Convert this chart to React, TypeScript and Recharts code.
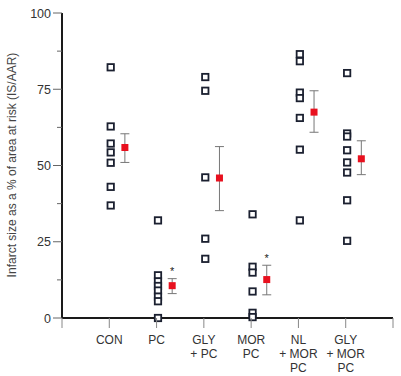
import { ErrorBar, Scatter, ScatterChart, XAxis, YAxis } from "recharts";

// group labels, one row per line
const categories = [
  ["CON"],
  ["PC"],
  ["GLY", "+ PC"],
  ["MOR", "PC"],
  ["NL", "+ MOR", "PC"],
  ["GLY", "+ MOR", "PC"],
];

// individual animals
const conValues = [82.2, 62.8, 57.2, 54.3, 50.9, 43.0, 36.9];
const pcValues = [32.0, 14.0, 12.0, 10.5, 9.0, 7.0, 5.5, 0];
const glyPcValues = [79.0, 74.5, 46.1, 26.0, 19.4];
const morPcValues = [34.0, 16.8, 14.9, 8.7, 1.7, 0.3];
const nlMorPcValues = [86.5, 84.2, 73.9, 72.1, 65.6, 55.2, 32.0];
const glyMorPcValues = [80.3, 60.5, 59.5, 55.0, 51.0, 47.7, 38.6, 25.3];

const groupValues = [conValues, pcValues, glyPcValues, morPcValues, nlMorPcValues, glyMorPcValues];

// group means with error bar ends
const meanValues = [55.9, 10.6, 45.9, 12.6, 67.5, 52.2];
const errUpper = [60.4, 12.9, 56.2, 17.3, 74.5, 58.1];
const errLower = [51.0, 8.0, 35.2, 7.6, 60.9, 47.0];
const significant = [false, true, false, true, false, false];

const yTicks = [0, 12.5, 25, 37.5, 50, 62.5, 75, 87.5, 100];
const xTicks = [0, 1, 2, 3, 4, 5, 6, 7];

const MEAN_OFFSET = 0.33;

const pointData = groupValues.flatMap((vals, i) =>
  vals.map((v) => ({ x: i + 1.03, y: v }))
);

const meanData = meanValues.map((m, i) => ({
  x: i + 1 + MEAN_OFFSET,
  y: m,
  err: [m - errLower[i], errUpper[i] - m],
}));

const starData = meanValues
  .map((_, i) => ({ x: i + 1 + MEAN_OFFSET, y: errUpper[i] + 2.7, sig: significant[i] }))
  .filter((d) => d.sig);

const font = "Liberation Sans, Arial, sans-serif";

const HollowSquare = (props: any) => {
  const { cx, cy } = props;
  return (
    <rect x={cx - 3.2} y={cy - 3.2} width={6.4} height={6.4} fill="#fff" stroke="#1b2030" strokeWidth={1.8} />
  );
};

const RedSquare = (props: any) => {
  const { cx, cy } = props;
  return <rect x={cx - 3.5} y={cy - 3.5} width={7} height={7} fill="#e8101e" />;
};

const Star = (props: any) => {
  const { cx, cy } = props;
  return (
    <text x={cx} y={cy + 5} textAnchor="middle" fontSize={11} fontFamily={font} fill="#222">
      *
    </text>
  );
};

const YTick = (props: any) => {
  const { x, y, payload } = props;
  const major = payload.value % 25 === 0;
  return (
    <g>
      <line x1={x - (major ? 9 : 5)} x2={x} y1={y} y2={y} stroke="#666" strokeWidth={1} />
      {major && (
        <text x={x - 11} y={y} dy={4.5} textAnchor="end" fontSize={12.5} fontFamily={font} fill="#333">
          {payload.value}
        </text>
      )}
    </g>
  );
};

const XTick = (props: any) => {
  const { x, y, payload } = props;
  const lines = categories[payload.value - 1] ?? [];
  return (
    <g>
      <line x1={x} x2={x} y1={y} y2={y + 10} stroke="#888" strokeWidth={1} />
      {lines.map((t, k) => (
        <text key={k} x={x} y={y + 26 + k * 14} textAnchor="middle" fontSize={12} fontFamily={font} fill="#333">
          {t}
        </text>
      ))}
    </g>
  );
};

const YLabel = () => (
  <text
    x={16}
    y={165}
    transform="rotate(-90 16 165)"
    textAnchor="middle"
    fontSize={12}
    fontFamily={font}
    fill="#444"
  >
    Infarct size as a % of area at risk (IS/AAR)
  </text>
);

export default function App() {
  return (
    <div style={{ position: "absolute", left: 0, top: 0, background: "#fff" }}>
      <ScatterChart width={401} height={376} margin={{ top: 13, right: 8, bottom: 0, left: 0 }}>
        <XAxis
          type="number"
          dataKey="x"
          domain={[0, 7]}
          ticks={xTicks}
          interval={0}
          height={58}
          tickSize={0}
          tickMargin={0}
          tickLine={false}
          tick={XTick}
          axisLine={{ stroke: "#1a1a1a", strokeWidth: 2 }}
        />
        <YAxis
          type="number"
          dataKey="y"
          domain={[0, 100]}
          ticks={yTicks}
          interval={0}
          width={62}
          tickSize={0}
          tickMargin={0}
          tickLine={false}
          tick={YTick}
          axisLine={{ stroke: "#1a1a1a", strokeWidth: 2 }}
          label={YLabel}
        />
        <Scatter data={pointData} shape={HollowSquare} isAnimationActive={false} />
        <Scatter data={meanData} shape={RedSquare} isAnimationActive={false}>
          <ErrorBar dataKey="err" direction="y" width={4.5} stroke="#777" strokeWidth={1} />
        </Scatter>
        <Scatter data={starData} shape={Star} isAnimationActive={false} />
      </ScatterChart>
    </div>
  );
}
